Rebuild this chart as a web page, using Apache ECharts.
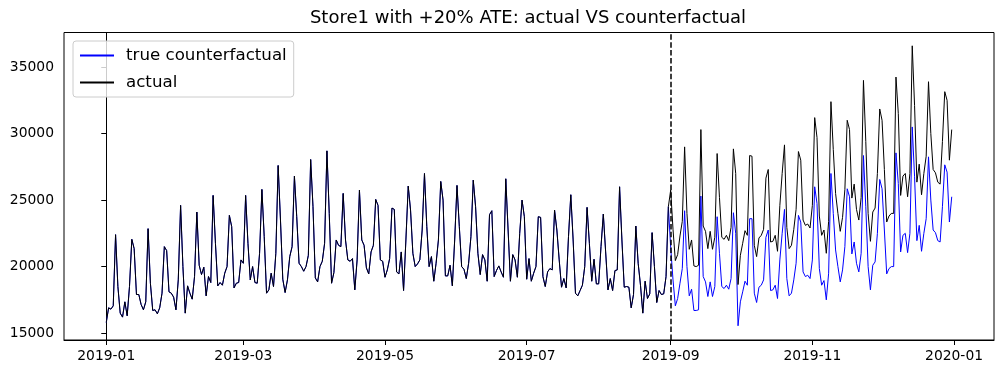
<!DOCTYPE html>
<html>
<head>
<meta charset="utf-8">
<script src="https://cdn.jsdelivr.net/npm/echarts@6/dist/echarts.min.js"></script>
<style>
html,body{margin:0;padding:0;background:#fff;}
#chart{width:1003px;height:374px;}
</style>
</head>
<body>
<div id="chart"></div>
<script>
// x positions are day offsets from 2019-01-01
const tickDays = [0, 59, 120, 181, 243, 304, 365];
const tickLabels = ['2019-01', '2019-03', '2019-05', '2019-07', '2019-09', '2019-11', '2020-01'];
const yTicks = [15000, 20000, 25000, 30000, 35000];
const interventionDay = 243; // 2019-09-01
const seriesNames = ['true counterfactual', 'actual'];
const seriesColors = ['#0000ff', '#000000'];

// daily values 2019-01-01 .. 2019-08-31 (both series identical)
const preValues = [
15800,16900,16800,17050,22400,18500,16500,16200,17350,16300,
18500,22050,21350,17900,17900,17150,16750,17350,22850,18750,
16700,16750,16450,16900,18000,21500,21200,18100,18000,17700,
16750,19000,24600,20000,16500,18550,18000,17550,19250,24100,
20100,19400,19950,17800,19250,18800,25350,21750,18550,18800,
18600,19500,20000,23850,23000,18400,18750,18800,20500,20250,
25350,21750,19000,20000,18800,18750,21000,25800,22250,18000,
18250,19500,18500,21000,27600,23500,19050,18050,19000,20750,
21500,26800,23750,20250,20000,19650,20000,20850,28050,24500,
19150,18850,20000,20400,21750,28700,24000,18750,19550,22000,
21600,21500,25500,22000,20500,20400,20600,18250,20500,25750,
22000,21600,19900,19450,21100,21600,25050,24600,20500,20400,
19200,19750,20600,24400,24300,19600,19450,21100,18200,22000,
26050,24250,21000,20000,20200,20500,22750,27000,23000,20000,
20750,18900,20250,22000,26400,25000,19300,19300,20100,18550,
22000,26100,23000,20000,19800,19100,20250,22250,26500,24500,
21000,19400,20900,20500,18900,23900,24200,19250,19700,20050,
19600,19200,26600,22750,18900,20900,20500,19200,22500,25000,
23750,19050,20600,18900,19500,20000,23750,23700,19250,18500,
19600,19850,19750,24250,22750,20500,18450,19100,18400,22250,
25400,22000,18000,17800,18200,18600,20000,24450,21750,18900,
20550,18700,18700,21500,23950,21100,18250,19100,18200,19700,
19750,26000,22000,18450,18500,18450,16900,17900,23050,20250,
18600,16500,18900,17600,17950,22550,20000,17300,18200,17900,
17950,19250,24500
];

// 2019-09-01 .. 2019-12-31
const counterfactualPost = [
21450,19000,17050,17600,18750,19850,24200,20000,17800,18300,
16700,16700,16750,25300,19250,18850,17750,18850,17750,18500,
23750,21000,18500,18350,18600,18300,19100,24050,22500,15550,
17350,18100,18900,18600,23600,23600,18000,17300,18450,18600,
19000,22200,22750,18200,18250,18600,17600,20500,22500,24300,
19100,17800,18000,19000,20250,23850,23350,19600,19250,19350,
19100,20500,26000,24750,19850,18600,18950,17500,19500,27000,
24000,21250,20000,18850,19750,21500,25850,25250,20950,21850,
20250,19600,21000,28350,24500,20000,18250,20100,20350,22500,
26550,25850,22750,19450,19850,20000,20000,28550,26250,21100,
22350,22500,21050,22500,30500,26750,21950,23100,21150,22500,
23600,28250,25000,22750,22550,21950,21850,24500,27650,27100,
23350,25250
];

const actualPost = [
25750,22800,20450,20900,22300,23400,29000,24000,21300,22000,
20050,20000,20100,30300,23050,22650,21350,22650,21300,22200,
28500,25200,22200,22050,22350,21950,22950,28850,27000,18650,
20850,21750,22700,22350,28350,28300,21600,20750,22150,22350,
22800,26650,27300,21850,21900,22350,21150,24600,27000,29150,
22950,21350,21600,22800,24300,28650,28000,23500,23100,23200,
22900,24600,31200,29700,23800,22350,22750,21000,23400,32400,
28800,25500,24000,22650,23700,25800,31000,30300,25150,26200,
24300,23500,25200,34000,29400,24000,21900,24100,24400,27000,
31850,31000,27300,23350,23800,24000,24000,34250,31500,25350,
26800,27000,25250,27000,36600,32100,26350,27700,25400,27000,
28300,33900,30000,27300,27050,26350,26200,29400,33150,32500,
28000,30300
];

const counterfactual = preValues.concat(counterfactualPost);
const actual = preValues.concat(actualPost);
const toPairs = arr => arr.map((v, i) => [i, v]);

const FONT = 'DejaVu Sans';
const chart = echarts.init(document.getElementById('chart'), null, {renderer: 'canvas'});
chart.setOption({
  animation: false,
  backgroundColor: '#fff',
  grid: {left: 64, right: 9, top: 32.5, bottom: 34, show: true, borderColor: '#000', borderWidth: 1, backgroundColor: 'transparent'},
  graphic: [{
    type: 'text', x: 528, y: 18,
    style: {text: 'Store1 with +20% ATE: actual VS counterfactual', font: '18px "DejaVu Sans"', fill: '#000', textAlign: 'center', textVerticalAlign: 'middle'}
  }],
  legend: {
    orient: 'vertical', left: 73, top: 41,
    itemWidth: 34, itemHeight: 17, itemGap: 10,
    padding: [6, 7, 6, 6],
    backgroundColor: 'rgba(255,255,255,0.8)', borderColor: '#cccccc', borderWidth: 1, borderRadius: 3,
    itemStyle: {opacity: 0},
    textStyle: {fontFamily: FONT, fontSize: 16.67, color: '#000', padding: [0, 0, 0, 7]},
    data: seriesNames
  },
  xAxis: {
    type: 'value', min: -18.2, max: 382.2,
    splitLine: {show: false},
    axisLine: {show: true, onZero: false, lineStyle: {color: '#000', width: 1}},
    axisTick: {show: true, length: 5, lineStyle: {color: '#000', width: 1}, customValues: tickDays},
    axisLabel: {
      customValues: tickDays, margin: 9, color: '#000', fontFamily: FONT, fontSize: 13.89,
      formatter: v => { const k = tickDays.indexOf(v); return k >= 0 ? tickLabels[k] : ''; }
    }
  },
  yAxis: {
    type: 'value', min: 14480, max: 37600,
    splitLine: {show: false},
    axisLine: {show: true, lineStyle: {color: '#000', width: 1}},
    axisTick: {show: true, length: 5, lineStyle: {color: '#000', width: 1}, customValues: yTicks},
    axisLabel: {customValues: yTicks, margin: 10, color: '#000', fontFamily: FONT, fontSize: 13.89,
      formatter: v => String(v)}
  },
  series: [
    {
      name: seriesNames[0], type: 'line', data: toPairs(counterfactual),
      symbol: 'none', lineStyle: {color: seriesColors[0], width: 1}, itemStyle: {color: seriesColors[0]}
    },
    {
      name: seriesNames[1], type: 'line', data: toPairs(actual),
      symbol: 'none', lineStyle: {color: seriesColors[1], width: 1}, itemStyle: {color: seriesColors[1]},
      markLine: {
        silent: true, symbol: ['none', 'none'], label: {show: false},
        lineStyle: {color: '#000', type: [5.5, 2.4], width: 1.5},
        data: [{xAxis: interventionDay}]
      }
    }
  ]
});
</script>
</body>
</html>
